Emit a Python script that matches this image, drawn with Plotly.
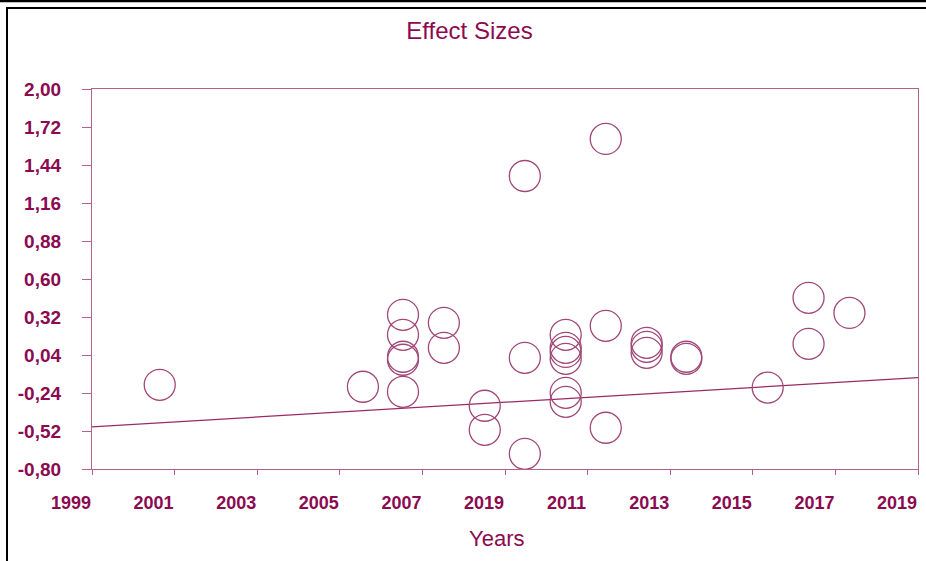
import plotly.graph_objects as go

# Effect sizes by publication year
years = [2000.64, 2005.56,
         2006.53, 2006.53, 2006.53, 2006.53, 2006.53,
         2007.52, 2007.52,
         2008.51, 2008.51,
         2009.48, 2009.48, 2009.48,
         2010.47, 2010.47, 2010.47, 2010.47, 2010.47, 2010.47,
         2011.44, 2011.44, 2011.44,
         2012.43, 2012.43, 2012.43,
         2013.39, 2013.39,
         2015.36,
         2016.35, 2016.35,
         2017.34]
effects = [-0.18, -0.194,
           0.336, 0.189, 0.027, 0.005, -0.231,
           0.277, 0.093,
           -0.334, -0.511,
           1.359, 0.019, -0.688,
           0.189, 0.093, 0.063, 0.012, -0.239, -0.305,
           1.632, 0.255, -0.496,
           0.130, 0.100, 0.056,
           0.027, 0.012,
           -0.20,
           0.461, 0.122,
           0.350]

# Linear trend endpoints
trend_x = [1999, 2019]
trend_y = [-0.489, -0.127]

x_tickvals = [1999, 2001, 2003, 2005, 2007, 2009, 2011, 2013, 2015, 2017, 2019]
x_ticktext = ["1999", "2001", "2003", "2005", "2007", "2019", "2011", "2013", "2015", "2017", "2019"]
y_tickvals = [-0.80, -0.52, -0.24, 0.04, 0.32, 0.60, 0.88, 1.16, 1.44, 1.72, 2.00]
y_ticktext = [f"{v:.2f}".replace(".", ",") for v in y_tickvals]

TEXT = "#8B0A50"
AXIS = "#B5608C"
MARK = "#A04878"
FONT = "Liberation Sans, Arial, sans-serif"

fig = go.Figure()
fig.add_trace(go.Scatter(
    x=trend_x, y=trend_y, mode="lines",
    line=dict(color="#9A2A64", width=1.2),
    hoverinfo="skip", showlegend=False,
))
fig.add_trace(go.Scatter(
    x=years, y=effects, mode="markers",
    marker=dict(symbol="circle-open", size=31, color=MARK,
                line=dict(width=1.3, color=MARK)),
    showlegend=False,
))

fig.update_layout(
    width=926, height=561,
    margin=dict(l=92, r=8, t=89, b=92),
    paper_bgcolor="white", plot_bgcolor="white",
    font=dict(family=FONT, color=TEXT),
    title=dict(text="Effect Sizes", x=469.5 / 926, xanchor="center",
               y=1 - 31 / 561, yanchor="middle",
               font=dict(size=24, color=TEXT, family=FONT)),
    xaxis=dict(
        range=[1999, 2019], tickmode="array",
        tickvals=x_tickvals, ticktext=x_ticktext,
        showgrid=False, zeroline=False,
        showline=True, linecolor=AXIS, linewidth=1.3, mirror=True,
        ticks="outside", ticklen=5, tickcolor=AXIS, tickwidth=1.3,
        tickfont=dict(size=18, color=TEXT, family=FONT, weight="bold"),
        ticklabelstandoff=12, ticklabelshift=-21, ticklabeloverflow="allow",
    ),
    yaxis=dict(
        range=[-0.80, 2.00], tickmode="array",
        tickvals=y_tickvals, ticktext=y_ticktext,
        showgrid=False, zeroline=False,
        showline=True, linecolor=AXIS, linewidth=1.3, mirror=True,
        ticks="outside", ticklen=9, tickcolor=AXIS, tickwidth=1.3,
        tickfont=dict(size=19, color=TEXT, family=FONT, weight="bold"),
        ticklabelstandoff=17,
    ),
    annotations=[dict(
        text="Years", xref="paper", yref="paper",
        x=(496 - 92) / 826, y=(469 - 538) / 380,
        xanchor="center", yanchor="middle", showarrow=False,
        font=dict(size=22, color=TEXT, family=FONT),
    )],
)

# Outer frame lines (paper coordinates relative to the plot area)
def px_x(px):
    return (px - 92) / 826

def px_y(py):
    return (469 - py) / 380

fig.add_shape(type="line", xref="paper", yref="paper",
              x0=px_x(0), x1=px_x(926), y0=px_y(1), y1=px_y(1),
              line=dict(color="black", width=2.5))
fig.add_shape(type="line", xref="paper", yref="paper",
              x0=px_x(6), x1=px_x(926), y0=px_y(8), y1=px_y(8),
              line=dict(color="black", width=2))
fig.add_shape(type="line", xref="paper", yref="paper",
              x0=px_x(7), x1=px_x(7), y0=px_y(8), y1=px_y(561),
              line=dict(color="black", width=2))

fig.write_html("out.html")
